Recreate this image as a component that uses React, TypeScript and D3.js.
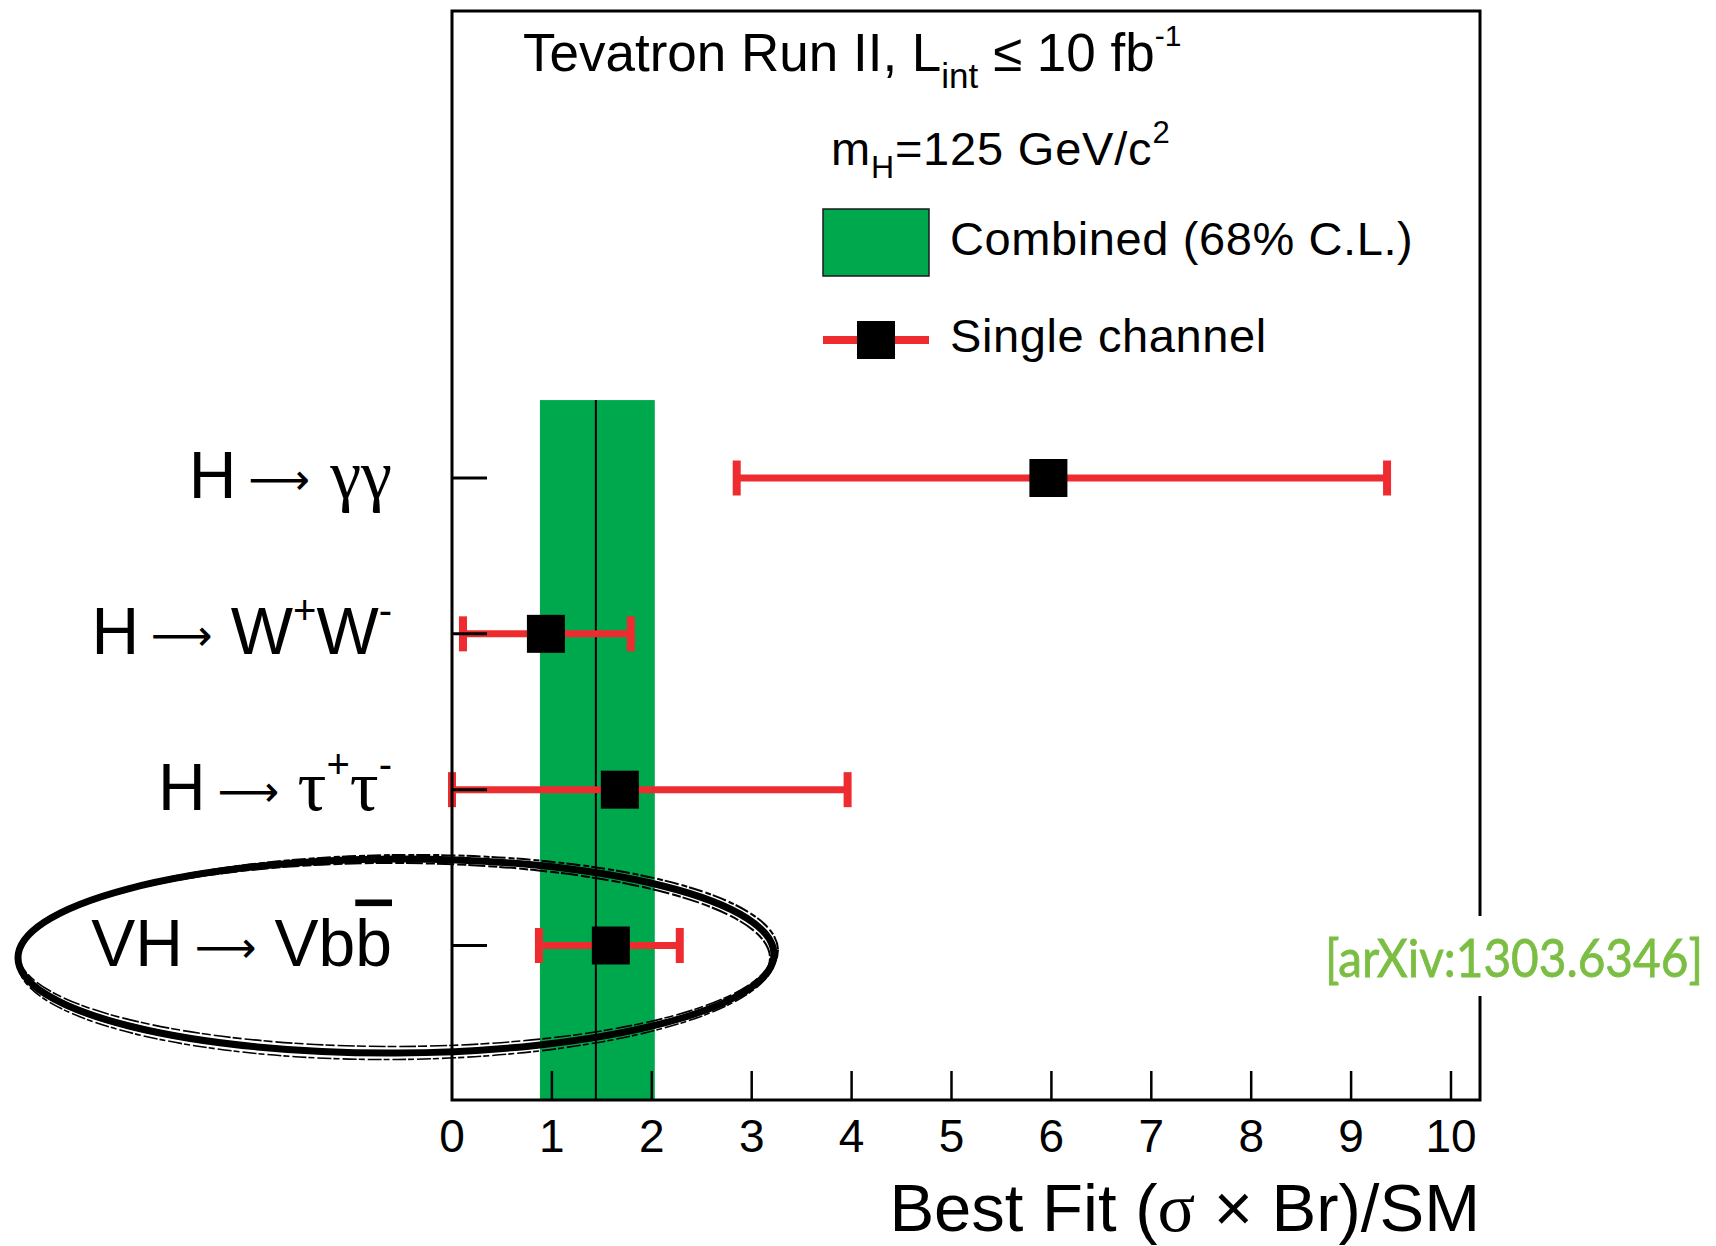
import React from 'react';
import * as d3 from 'd3';

// ---- data ----
const channelKeys = ['gg', 'WW', 'tautau', 'Vbb'];
const bestFit = [5.97, 0.94, 1.68, 1.59];
const errDown = [3.12, 0.83, 1.68, 0.72];
const errUp = [3.39, 0.85, 2.28, 0.69];
const combinedFit = 1.44;
const combinedDown = 0.56;
const combinedUp = 0.59;
const xTicks = [0, 1, 2, 3, 4, 5, 6, 7, 8, 9, 10];

const SANS = "'Liberation Sans', Arial, Helvetica, sans-serif";
const SERIF = "'Liberation Serif', 'Times New Roman', serif";
const ARROW = "'DejaVu Sans', sans-serif";
const RED = '#EE2C30';
const GREEN = '#00A84D';

const W = 1716;
const H = 1246;
const frame = { left: 452, right: 1480, top: 11, bottom: 1100 };

const x = d3.scaleLinear().domain([0, 10]).range([452, 1451]);
const y = d3.scaleLinear().domain([0, 3]).range([478, 945.5]);

function ChannelLabel({ k, yy }: { k: string; yy: number }) {
  const big = 66;
  const sup = 40;
  const common = { x: 392, y: yy + 20, textAnchor: 'end' as const, fill: '#000' };
  const arrow = (
    <tspan fontFamily={ARROW} fontSize={43} dx={12} dy={-4}>
      ⟶
    </tspan>
  );
  if (k === 'gg') {
    return (
      <text {...common} fontFamily={SANS} fontSize={big}>
        <tspan>H</tspan>
        {arrow}
        <tspan fontFamily={SERIF} fontSize={big + 4} dx={20} dy={4}>
          γγ
        </tspan>
      </text>
    );
  }
  if (k === 'WW') {
    return (
      <text {...common} fontFamily={SANS} fontSize={big}>
        <tspan>H</tspan>
        {arrow}
        <tspan dx={18} dy={4}>W</tspan>
        <tspan fontSize={sup} dy={-30}>+</tspan>
        <tspan dy={30}>W</tspan>
        <tspan fontSize={sup} dy={-30}>-</tspan>
      </text>
    );
  }
  if (k === 'tautau') {
    return (
      <text {...common} fontFamily={SANS} fontSize={big}>
        <tspan>H</tspan>
        {arrow}
        <tspan fontFamily={SERIF} fontSize={big + 6} dx={18} dy={4}>τ</tspan>
        <tspan fontSize={sup} dy={-32}>+</tspan>
        <tspan fontFamily={SERIF} fontSize={big + 6} dy={32}>τ</tspan>
        <tspan fontSize={sup} dy={-32}>-</tspan>
      </text>
    );
  }
  return (
    <text {...common} fontFamily={SANS} fontSize={big}>
      <tspan>VH</tspan>
      {arrow}
      <tspan dx={18} dy={4}>Vb</tspan>
      <tspan style={{ textDecoration: 'overline' }}>b</tspan>
    </text>
  );
}

export default function App() {
  const bandX0 = x(combinedFit - combinedDown);
  const bandX1 = x(combinedFit + combinedUp);
  const bandTop = y(-0.5);
  const ell = { cx: 396, cy: 956, rx: 378, ry: 97 };
  const ellVariants = [
    [1.5, -1.5, 2.5, 2.5, -0.4, 2],
    [-1.5, 1.5, -2.5, -2.5, 0.4, 2],
    [0.5, 3, 1, 3.5, -0.2, 1.6],
    [-0.5, -3, -1, -3.5, 0.2, 1.6],
  ];
  return (
    <div style={{ position: 'absolute', left: 0, top: 0 }}>
      <svg width={W} height={H} viewBox={`0 0 ${W} ${H}`} style={{ display: 'block', background: '#fff' }}>
        <rect x={0} y={0} width={W} height={H} fill="#fff" />
        {/* combined band */}
        <rect x={bandX0} y={bandTop} width={bandX1 - bandX0} height={frame.bottom - bandTop} fill={GREEN} />
        <line x1={x(combinedFit)} x2={x(combinedFit)} y1={bandTop} y2={frame.bottom} stroke="#000" strokeWidth={2} />

        {/* single channels */}
        {channelKeys.map((k, i) => {
          const lo = x(bestFit[i] - errDown[i]);
          const hi = x(bestFit[i] + errUp[i]);
          const yy = y(i);
          return (
            <g key={k}>
              <line x1={lo} x2={hi} y1={yy} y2={yy} stroke={RED} strokeWidth={7} />
              <rect x={lo - 4} y={yy - 17.5} width={8} height={35} fill={RED} />
              <rect x={hi - 4} y={yy - 17.5} width={8} height={35} fill={RED} />
              <rect x={x(bestFit[i]) - 19} y={yy - 19} width={38} height={38} fill="#000" />
              <line x1={frame.left} x2={frame.left + 35} y1={yy} y2={yy} stroke="#000" strokeWidth={3} />
            </g>
          );
        })}

        {/* frame */}
        <rect
          x={frame.left}
          y={frame.top}
          width={frame.right - frame.left}
          height={frame.bottom - frame.top}
          fill="none"
          stroke="#000"
          strokeWidth={3}
        />
        {/* x ticks */}
        {xTicks.map((t) => (
          <g key={t}>
            {t > 0 && (
              <line x1={x(t)} x2={x(t)} y1={frame.bottom} y2={frame.bottom - 29} stroke="#000" strokeWidth={2.5} />
            )}
            <text x={x(t)} y={1152} textAnchor="middle" fontFamily={SANS} fontSize={46} fill="#000">
              {t}
            </text>
          </g>
        ))}
        <text x={1480} y={1231} textAnchor="end" fontFamily={SANS} fontSize={67} fill="#000">
          Best Fit (<tspan fontFamily={SERIF} fontSize={70}>σ</tspan> × Br)/SM
        </text>

        {/* channel labels */}
        {channelKeys.map((k, i) => (
          <ChannelLabel key={k} k={k} yy={y(i)} />
        ))}

        {/* header texts */}
        <text x={523} y={71} fontFamily={SANS} fontSize={53} fill="#000">
          Tevatron Run II, L<tspan fontSize={35} dy={17}>int</tspan>
          <tspan dy={-17}> ≤ 10 fb</tspan>
          <tspan fontSize={30} dy={-25}>-1</tspan>
        </text>
        <text x={831} y={165} fontFamily={SANS} fontSize={47} fill="#000" letterSpacing={0.8}>
          m<tspan fontSize={32} dy={13}>H</tspan>
          <tspan dy={-13}>=125 GeV/c</tspan>
          <tspan fontSize={31} dy={-22}>2</tspan>
        </text>

        {/* legend */}
        <rect x={823} y={209} width={106} height={67} fill={GREEN} stroke="#1a1a1a" strokeWidth={1.5} />
        <text x={950} y={255} fontFamily={SANS} fontSize={47} fill="#000" letterSpacing={0.6}>
          Combined (68% C.L.)
        </text>
        <line x1={823} x2={929} y1={340} y2={340} stroke={RED} strokeWidth={8} />
        <rect x={876 - 19} y={340 - 19} width={38} height={38} fill="#000" />
        <text x={950} y={352} fontFamily={SANS} fontSize={47} fill="#000" letterSpacing={0.6}>
          Single channel
        </text>

        {/* hand-drawn ellipse */}
        <ellipse
          cx={ell.cx}
          cy={ell.cy}
          rx={ell.rx}
          ry={ell.ry}
          transform={`rotate(-0.3 ${ell.cx} ${ell.cy})`}
          fill="none"
          stroke="#000"
          strokeWidth={7}
        />
        {ellVariants.map((v, i) => (
          <ellipse
            key={i}
            cx={ell.cx + v[0]}
            cy={ell.cy + v[1]}
            rx={ell.rx + v[2]}
            ry={ell.ry + v[3]}
            transform={`rotate(${v[4] - 0.3} ${ell.cx} ${ell.cy})`}
            fill="none"
            stroke="#000"
            strokeWidth={v[5]}
            strokeDasharray={i % 2 === 0 ? '14 3 6 2' : '9 2 17 3'}
          />
        ))}

        {/* arXiv label */}
        <rect x={1318} y={916} width={394} height={80} fill="#fff" />
        <text
          x={1325}
          y={977}
          fontFamily="Lato, 'Open Sans', sans-serif"
          fontSize={52}
          fill="#7BBE43"
          stroke="#7BBE43"
          strokeWidth={0.8}
          textLength={378}
          lengthAdjust="spacingAndGlyphs"
        >
          [arXiv:1303.6346]
        </text>
      </svg>
    </div>
  );
}
